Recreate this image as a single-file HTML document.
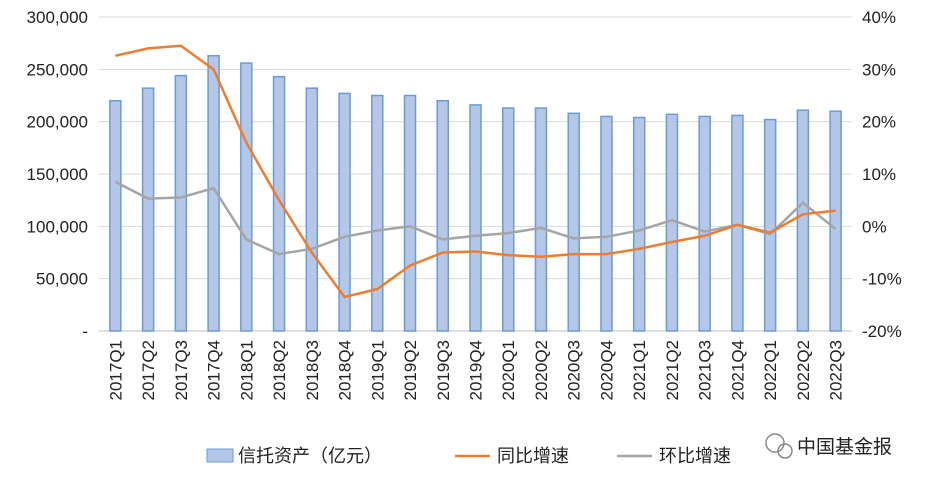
<!DOCTYPE html>
<html><head><meta charset="utf-8"><style>
body{margin:0;background:#fff;width:935px;height:486px;overflow:hidden}
svg text{font-family:"Liberation Sans","Noto Sans CJK SC",sans-serif;fill:#222}
</style></head><body>
<svg id="c" width="935" height="486"></svg>
<script>
const categories=["2017Q1","2017Q2","2017Q3","2017Q4","2018Q1","2018Q2","2018Q3","2018Q4","2019Q1","2019Q2","2019Q3","2019Q4","2020Q1","2020Q2","2020Q3","2020Q4","2021Q1","2021Q2","2021Q3","2021Q4","2022Q1","2022Q2","2022Q3"];
const assets=[220000,232000,244000,263000,256000,243000,232000,227000,225000,225000,220000,216000,213000,213000,208000,205000,204000,207000,205000,206000,202000,211000,210000];
const yoy=[32.6,34,34.5,30,16,5,-5,-13.5,-12,-7.5,-5,-4.8,-5.5,-5.8,-5.3,-5.3,-4.3,-3,-1.8,0.3,-1.2,2.3,3];
const qoq=[8.5,5.3,5.5,7.3,-2.5,-5.3,-4.3,-2,-0.8,0,-2.5,-1.8,-1.3,-0.3,-2.3,-2,-0.8,1.2,-1,0.3,-1.5,4.5,-0.5];
const leftTicks=[0,50000,100000,150000,200000,250000,300000];
const leftLabels=["-","50,000","100,000","150,000","200,000","250,000","300,000"];
const rightTicks=[-20,-10,0,10,20,30,40];
const rightLabels=["-20%","-10%","0%","10%","20%","30%","40%"];
const svg=document.getElementById('c');const NS="http://www.w3.org/2000/svg";
function mk(t,a,p){const e=document.createElementNS(NS,t);for(const k in a)e.setAttribute(k,a[k]);(p||svg).appendChild(e);return e;}
const plotTop=17,bot=331,x0=99,x1=852;
const yL=v=>bot-(v/300000)*(bot-plotTop);
const yR=v=>bot-((v+20)/60)*(bot-plotTop);
const step=(x1-x0)/categories.length;
const xC=i=>x0+step*(i+0.5);
leftTicks.forEach((t,i)=>{
 if(i>0){const g=mk('line',{x1:x0,x2:x1,y1:yL(t),y2:yL(t),stroke:'#d9d9d9','stroke-width':1});
 }
 const tx=mk('text',{x:88,y:yL(t)+6,'text-anchor':'end','font-size':17});tx.textContent=leftLabels[i];
 
});
rightTicks.forEach((t,i)=>{
 const tx=mk('text',{x:862,y:yR(t)+6,'font-size':17});tx.textContent=rightLabels[i];
 
});
const ax=mk('line',{x1:x0,x2:x1,y1:bot,y2:bot,stroke:'#bfbfbf'});

assets.forEach((v,i)=>{
 const b=mk('rect',{x:xC(i)-5.5,y:yL(v),width:11,height:bot-yL(v),fill:'#b4c7e7',stroke:'#6a9bd8','stroke-width':1.5});
 
 const tx=mk('text',{transform:`translate(${xC(i)+6},${340}) rotate(-90)`,'text-anchor':'end','font-size':17});
 tx.textContent=categories[i];
 
});
function line(arr,col,name){const p=mk('polyline',{points:arr.map((v,i)=>xC(i)+','+yR(v)).join(' '),fill:'none',stroke:col,'stroke-width':2.5});
 }
line(qoq,'#a5a5a5','qoq-line');
line(yoy,'#ed7d31','yoy-line');
const lg=mk('g',{});
const r=mk('rect',{x:207,y:449,width:26,height:13,fill:'#b4c7e7',stroke:'#6a9bd8'},lg);

let t=mk('text',{x:238,y:462,'font-size':18},lg);t.textContent='信托资产（亿元）';

let l=mk('line',{x1:455,x2:490,y1:456,y2:456,stroke:'#ed7d31','stroke-width':2.5},lg);

t=mk('text',{x:497,y:462,'font-size':18},lg);t.textContent='同比增速';

l=mk('line',{x1:617,x2:652,y1:456,y2:456,stroke:'#a5a5a5','stroke-width':2.5},lg);

t=mk('text',{x:659,y:462,'font-size':18},lg);t.textContent='环比增速';

const wm=mk('g',{});
mk('circle',{cx:775,cy:443,r:9,fill:'none',stroke:'#888','stroke-width':1.5},wm);
mk('circle',{cx:785,cy:451,r:7,fill:'none',stroke:'#888','stroke-width':1.5},wm);
t=mk('text',{x:797,y:453,'font-size':19},wm);t.textContent='中国基金报';t.setAttribute('fill','#444');

</script>
</body></html>
